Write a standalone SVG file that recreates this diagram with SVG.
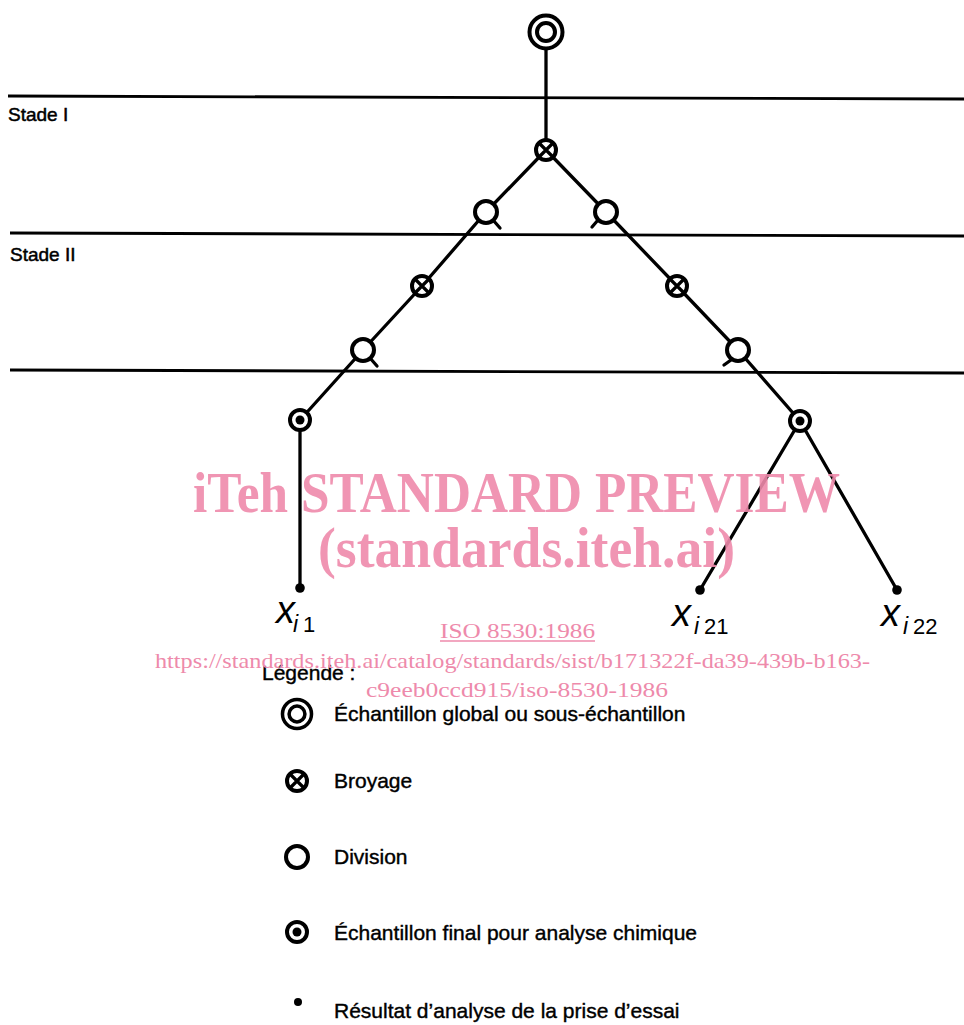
<svg xmlns="http://www.w3.org/2000/svg" width="964" height="1025" viewBox="0 0 964 1025">
<style>
.ln{stroke:#000;stroke-width:3.3;fill:none;stroke-linecap:round}
.hl{stroke:#000;stroke-width:2.8;fill:none}
.c{fill:#fff;stroke:#000;stroke-width:4}
.dot{fill:#000}
.lbl{font-family:"Liberation Sans",Arial,sans-serif;font-size:19px;fill:#000;stroke:#000;stroke-width:0.5}
.leg{font-family:"Liberation Sans",Arial,sans-serif;font-size:21px;fill:#000;stroke:#000;stroke-width:0.4}
.xv{font-family:"Liberation Sans",Arial,sans-serif;font-style:italic;font-size:38px;fill:#000}
.xs{font-family:"Liberation Sans",Arial,sans-serif;font-size:22px;fill:#000}
.xsi{font-family:"Liberation Sans",Arial,sans-serif;font-style:italic;font-size:23px;fill:#000}
.wm{font-family:"Liberation Serif","Times New Roman",serif;font-weight:bold;font-size:56px;fill:#ee8aab;fill-opacity:0.9}
.wm2{font-family:"Liberation Serif","Times New Roman",serif;font-size:22px;fill:#ee8aab}
</style>
<defs>
<g id="div"><circle r="11" class="c"/></g>
<g id="broy"><circle r="10" class="c"/><path d="M-6,-6 L6,6 M6,-6 L-6,6" stroke="#000" stroke-width="3.2"/></g>
<g id="fin"><circle r="10" class="c"/><circle r="4.5" class="dot"/></g>
<g id="glob"><circle r="16.5" class="c" stroke-width="4.3"/><circle r="9" class="c" stroke-width="4.3"/></g>
</defs>

<g id="stages">
<line class="hl" x1="8" y1="96" x2="964" y2="99"/>
<line class="hl" x1="10" y1="233" x2="964" y2="236"/>
<line class="hl" x1="10" y1="370" x2="964" y2="373"/>
<text class="lbl" x="8" y="121">Stade I</text>
<text class="lbl" x="10" y="261">Stade II</text>
</g>

<g id="connectors">
<line class="ln" x1="546" y1="32" x2="546" y2="150"/>
<line class="ln" x1="546" y1="150" x2="486" y2="212"/>
<line class="ln" x1="546" y1="150" x2="606" y2="212"/>
<line class="ln" x1="486" y1="212" x2="422" y2="286"/>
<line class="ln" x1="422" y1="286" x2="363" y2="350"/>
<line class="ln" x1="363" y1="350" x2="300" y2="420"/>
<line class="ln" x1="300" y1="420" x2="300" y2="588"/>
<line class="ln" x1="606" y1="212" x2="677" y2="286"/>
<line class="ln" x1="677" y1="286" x2="738" y2="350"/>
<line class="ln" x1="738" y1="350" x2="800" y2="421"/>
<line class="ln" x1="800" y1="421" x2="700" y2="590"/>
<line class="ln" x1="800" y1="421" x2="897" y2="590"/>
<line class="ln" x1="493" y1="220" x2="500" y2="228"/>
<line class="ln" x1="370" y1="358" x2="377" y2="366"/>
<line class="ln" x1="598" y1="220" x2="592" y2="227"/>
<line class="ln" x1="731" y1="360" x2="724" y2="365"/>
</g>

<g id="n-top"><use href="#glob" x="546" y="32"/></g>
<g id="n-b1"><use href="#broy" x="546" y="150"/></g>
<g id="n-d1l"><use href="#div" x="486" y="212"/></g>
<g id="n-d1r"><use href="#div" x="606" y="212"/></g>
<g id="n-b2l"><use href="#broy" x="422" y="286"/></g>
<g id="n-b2r"><use href="#broy" x="677" y="286"/></g>
<g id="n-d2l"><use href="#div" x="363" y="350"/></g>
<g id="n-d2r"><use href="#div" x="738" y="350"/></g>
<g id="n-fl"><use href="#fin" x="300" y="420"/></g>
<g id="n-fr"><use href="#fin" x="800" y="421"/></g>
<g id="r-i1"><circle class="dot" cx="300" cy="588" r="4.8"/>
<text class="xv" x="276" y="623">x</text><text class="xsi" x="293" y="632">i</text><text class="xs" x="303" y="632">1</text></g>
<g id="r-i21"><circle class="dot" cx="700" cy="590" r="4.8"/>
<text class="xv" x="672" y="626">x</text><text class="xsi" x="694" y="634">i</text><text class="xs" x="704" y="634">21</text></g>
<g id="r-i22"><circle class="dot" cx="897" cy="590" r="4.8"/>
<text class="xv" x="881" y="626">x</text><text class="xsi" x="903" y="634">i</text><text class="xs" x="913" y="634">22</text></g>

<g id="legend">
<text class="leg" x="262" y="680" font-size="18">Légende :</text>
<use href="#glob" x="297" y="714" transform="translate(297 714) scale(0.88) translate(-297 -714)"/>
<text class="leg" x="334" y="721">Échantillon global ou sous-échantillon</text>
<use href="#broy" x="297" y="781"/>
<text class="leg" x="334" y="788">Broyage</text>
<use href="#div" x="297" y="857"/>
<text class="leg" x="334" y="864">Division</text>
<use href="#fin" x="297" y="932"/>
<text class="leg" x="334" y="940">Échantillon final pour analyse chimique</text>
<circle class="dot" cx="298" cy="1002" r="4"/>
<text class="leg" x="334" y="1018">Résultat d’analyse de la prise d’essai</text>
</g>

<g id="watermark">
<text class="wm" x="193" y="512" textLength="647" lengthAdjust="spacingAndGlyphs">iTeh STANDARD PREVIEW</text>
<text class="wm" x="318" y="567" textLength="417" lengthAdjust="spacingAndGlyphs">(standards.iteh.ai)</text>
<text class="wm2" x="440" y="638" textLength="155" lengthAdjust="spacingAndGlyphs">ISO 8530:1986</text>
<line x1="440" y1="641" x2="595" y2="641" stroke="#ee8aab" stroke-width="1.5"/>
<text class="wm2" x="155" y="668" textLength="715" lengthAdjust="spacingAndGlyphs">https://standards.iteh.ai/catalog/standards/sist/b171322f-da39-439b-b163-</text>
<text class="wm2" x="366" y="697" textLength="302" lengthAdjust="spacingAndGlyphs">c9eeb0ccd915/iso-8530-1986</text>
</g>
</svg>
